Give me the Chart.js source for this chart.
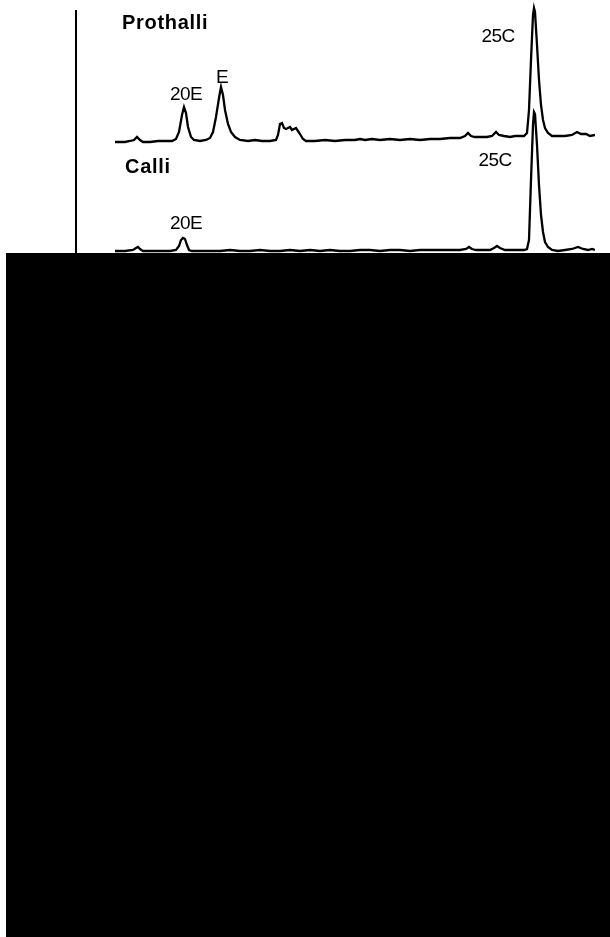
<!DOCTYPE html>
<html>
<head>
<meta charset="utf-8">
<script src="https://cdn.jsdelivr.net/npm/chart.js@4/dist/chart.umd.min.js"></script>
<style>
  html, body { margin: 0; padding: 0; background: #fff; }
  #wrap { position: relative; width: 610px; height: 937px; overflow: hidden; background: #fff; }
  #c { position: absolute; left: 0; top: 0; }
  #vline { position: absolute; left: 75px; top: 10px; width: 2px; height: 243px; background: #000; }
  #cover { position: absolute; left: 6px; top: 253px; right: 0; bottom: 0; background: #000; }
</style>
</head>
<body>
<div id="wrap">
  <canvas id="c" width="610" height="260"></canvas>
  <div id="vline"></div>
  <div id="cover"></div>
</div>
<script>
// Retention time (arbitrary min) and detector response (arbitrary units)
const prothalliTime = [0,0.5,1,1.5,1.9,2.2,2.5,2.8,3.5,4.3,5,5.7,6.1,6.4,6.7,6.9,7.1,7.3,7.6,7.9,8.5,9.1,9.5,9.8,10.1,10.4,10.6,10.8,11,11.3,11.6,12,12.5,13.3,14,14.7,15.5,16.1,16.3,16.5,16.7,16.9,17.1,17.3,17.5,17.7,17.9,18.1,18.3,18.5,18.8,19.1,20,21,22,23,24,24.5,25,25.7,26.5,27.5,28.5,29.5,30.5,31.5,32.5,33.5,34.5,35,35.3,35.6,36,36.5,37.2,37.7,38.1,38.4,38.9,39.5,40,40.5,40.9,41.2,41.4,41.6,41.8,41.9,42,42.2,42.4,42.6,42.8,43,43.3,43.7,44.3,45,45.7,46.2,46.6,47.1,47.5,48];
const prothalliSignal = [-1,-1,-1,0,1,4,1,-1,-1,0,0,0,2,9,26,34,28,14,4,1,0,1,3,9,24,43,54,46,31,17,9,4,1,0,1,0,0,1,6,17,18,13,12,13,14,11,12,13,10,7,2,0,0,1,0,1,1,2,1,2,1,2,1,2,1,2,2,3,3,5,8,5,4,4,4,5,9,6,5,4,5,5,5,8,31,81,126,133,129,96,61,36,21,13,8,5,5,5,6,9,7,7,5,6];

const calliTime = [0,1,1.8,2.1,2.3,2.5,2.8,3.5,4.5,5.5,6.1,6.4,6.6,6.8,7,7.2,7.4,7.7,8.5,9.5,10.5,11.5,12.5,13.5,14.5,15.5,16.5,17.5,18.5,19.5,20.5,21.5,22.5,23.5,24.5,25.5,26.5,27.5,28.5,29.5,30.5,31.5,32.5,33.5,34.5,35.1,35.4,35.7,36.1,36.7,37.5,37.9,38.2,38.5,39,39.7,40.3,40.9,41.2,41.4,41.6,41.8,41.9,42,42.2,42.4,42.6,42.8,43,43.3,43.7,44.3,45,45.7,46.3,46.8,47.3,47.7,48];
const calliSignal = [0,0,1,3,4,2,0,0,0,0,1,5,11,13,12,6,1,0,0,0,0,1,0,0,1,0,0,1,0,1,0,1,0,0,1,1,0,1,1,0,1,1,1,1,1,2,4,2,1,1,1,3,5,3,1,1,1,1,2,11,71,126,139,137,106,66,36,19,9,4,1,0,1,2,4,2,1,2,1];

const peakLabels = ['20E', 'E', '25C', '20E', '25C'];
const sampleNames = ['Prothalli', 'Calli'];

const toXY = (t, v) => t.map((x, i) => ({ x: x, y: v[i] }));

// label anchors expressed in data coordinates
const labels = [
  { text: sampleNames[0], x: 0.7, y: 112, axis: 'yP', bold: true, align: 'left' },
  { text: peakLabels[0], x: 7.1, y: 41, axis: 'yP', bold: false, align: 'center' },
  { text: peakLabels[1], x: 10.7, y: 58, axis: 'yP', bold: false, align: 'center' },
  { text: peakLabels[2], x: 38.3, y: 99, axis: 'yP', bold: false, align: 'center' },
  { text: sampleNames[1], x: 1.0, y: 78, axis: 'yC', bold: true, align: 'left' },
  { text: peakLabels[3], x: 7.1, y: 22, axis: 'yC', bold: false, align: 'center' },
  { text: peakLabels[4], x: 38.0, y: 85, axis: 'yC', bold: false, align: 'center' }
];

const labelPlugin = {
  id: 'peakLabels',
  afterDatasetsDraw(chart) {
    const ctx = chart.ctx;
    ctx.save();
    ctx.fillStyle = '#000';
    ctx.textBaseline = 'alphabetic';
    labels.forEach(l => {
      const px = chart.scales.x.getPixelForValue(l.x);
      const py = chart.scales[l.axis].getPixelForValue(l.y);
      if (l.bold) {
        ctx.font = 'bold 20px "Liberation Sans", Arial, sans-serif';
        ctx.letterSpacing = '0.7px';
      } else {
        ctx.font = '19px "Liberation Sans", Arial, sans-serif';
        ctx.letterSpacing = '-0.6px';
      }
      ctx.textAlign = l.align;
      ctx.fillText(l.text, px, py);
    });
    ctx.restore();
  }
};

new Chart(document.getElementById('c'), {
  type: 'line',
  data: {
    datasets: [
      { label: sampleNames[0], data: toXY(prothalliTime, prothalliSignal), yAxisID: 'yP',
        borderColor: '#000', borderWidth: 2.3, pointRadius: 0, tension: 0, fill: false },
      { label: sampleNames[1], data: toXY(calliTime, calliSignal), yAxisID: 'yC',
        borderColor: '#000', borderWidth: 2.3, pointRadius: 0, tension: 0, fill: false }
    ]
  },
  options: {
    responsive: false,
    devicePixelRatio: 1,
    animation: false,
    layout: { padding: { left: 115, right: 15, top: 0, bottom: 0 } },
    plugins: { legend: { display: false }, tooltip: { enabled: false } },
    scales: {
      x: { type: 'linear', display: false, min: 0, max: 48 },
      yP: { type: 'linear', display: false, min: -119, max: 141 },
      yC: { type: 'linear', display: false, min: -9, max: 251 }
    }
  },
  plugins: [labelPlugin]
});
</script>
</body>
</html>
